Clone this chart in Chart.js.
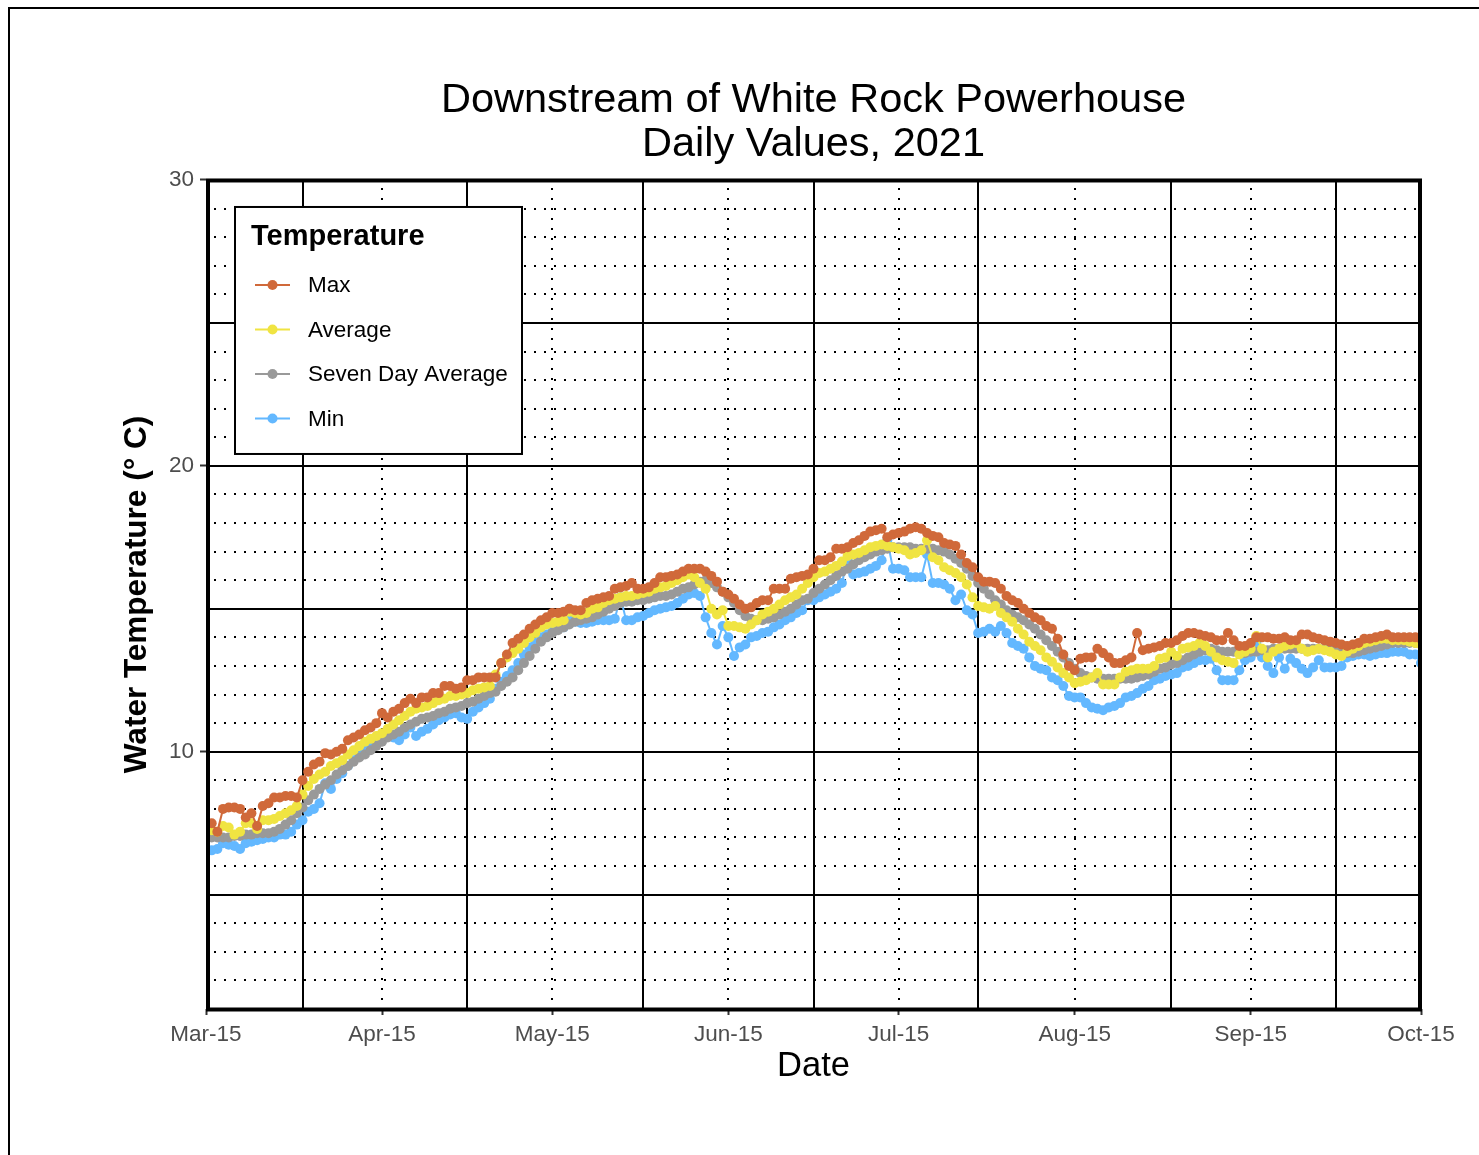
<!DOCTYPE html>
<html>
<head>
<meta charset="utf-8">
<script src="https://cdn.jsdelivr.net/npm/chart.js@4.4.1/dist/chart.umd.min.js"></script>
<style>
  html, body { margin: 0; padding: 0; background: #fff; }
  #wrap { position: relative; width: 1479px; height: 1155px; overflow: hidden; }
  #chart { position: absolute; left: 0; top: 0; }
  #frame { position: absolute; left: 8px; top: 7px; width: 1500px; height: 1200px;
           border-left: 2px solid #000; border-top: 2px solid #000; pointer-events: none; }
</style>
</head>
<body>
<div id="wrap">
  <canvas id="chart" width="1479" height="1155"></canvas>
  <div id="frame"></div>
</div>
<script>
// days are counted from Mar-15-2021; first reading is Mar-16
const firstDay = 1;

const maxTemp = [
  7.5, 7.2, 8.0, 8.05, 8.05, 8.0, 7.7, 7.85, 7.4, 8.1,
  8.2, 8.4, 8.4, 8.45, 8.45, 8.4, 9.0, 9.3, 9.55, 9.65,
  9.95, 9.9, 10.0, 10.1, 10.4, 10.5, 10.6, 10.75, 10.85, 11.0,
  11.35, 11.2, 11.4, 11.5, 11.7, 11.85, 11.7, 11.9, 11.9, 12.05,
  12.05, 12.3, 12.3, 12.2, 12.25, 12.5, 12.5, 12.6, 12.6, 12.6,
  12.6, 13.1, 13.4, 13.8, 13.95, 14.1, 14.3, 14.45, 14.6, 14.7,
  14.85, 14.85, 14.9, 15.0, 14.95, 14.95, 15.2, 15.3, 15.35, 15.4,
  15.45, 15.7, 15.75, 15.8, 15.9, 15.7, 15.7, 15.75, 15.9, 16.1,
  16.1, 16.15, 16.2, 16.3, 16.4, 16.4, 16.4, 16.3, 16.15, 15.95,
  15.6, 15.5, 15.35, 15.15, 15.0, 15.05, 15.2, 15.3, 15.3, 15.7,
  15.7, 15.7, 16.05, 16.1, 16.15, 16.2, 16.4, 16.7, 16.7, 16.8,
  17.1, 17.1, 17.15, 17.3, 17.4, 17.55, 17.7, 17.75, 17.8, 17.5,
  17.6, 17.65, 17.7, 17.8, 17.85, 17.8, 17.65, 17.55, 17.5, 17.3,
  17.25, 17.2, 16.9, 16.6, 16.45, 16.1, 15.95, 15.95, 15.9, 15.7,
  15.45, 15.3, 15.2, 15.0, 14.85, 14.7, 14.6, 14.4, 14.3, 13.95,
  13.4, 13.0, 12.85, 13.25, 13.3, 13.3, 13.6, 13.45, 13.3, 13.1,
  13.1, 13.2, 13.3, 14.15, 13.55, 13.6, 13.65, 13.7, 13.8, 13.8,
  13.9, 14.05, 14.15, 14.15, 14.1, 14.05, 14.0, 13.9, 13.9, 14.15,
  13.9, 13.7, 13.7, 13.8, 14.0, 14.0, 14.0, 13.95, 13.95, 14.0,
  13.9, 13.9, 14.1, 14.1, 14.0, 13.95, 13.9, 13.85, 13.8, 13.75,
  13.7, 13.75, 13.8, 13.95, 13.95, 14.0, 14.05, 14.1, 14.0, 14.0,
  14.0, 14.0, 14.0, 13.95
];

const avgTemp = [
  7.25, 7.2, 7.4, 7.35, 7.1, 7.2, 7.5, 7.5, 7.3, 7.6,
  7.6, 7.65, 7.75, 7.85, 7.95, 8.1, 8.5, 8.8, 9.05, 9.2,
  9.3, 9.5, 9.6, 9.7, 9.9, 10.05, 10.2, 10.35, 10.45, 10.55,
  10.65, 10.8, 10.95, 11.1, 11.25, 11.4, 11.5, 11.55, 11.6, 11.7,
  11.8, 11.85, 11.95, 11.95, 12.0, 12.05, 12.15, 12.2, 12.25, 12.3,
  12.7, 13.1, 13.3, 13.45, 13.6, 13.8, 14.0, 14.15, 14.35, 14.45,
  14.5, 14.55, 14.6, 14.9, 14.85, 14.8, 14.85, 15.0, 15.05, 15.2,
  15.3, 15.35, 15.4, 15.45, 15.45, 15.5, 15.55, 15.6, 15.7, 15.75,
  15.8, 15.9, 16.0, 16.1, 16.2, 16.1, 15.9, 15.7, 15.0, 14.8,
  14.95, 14.4, 14.4, 14.35, 14.3, 14.45, 14.6, 14.8, 14.9, 15.0,
  15.15, 15.3, 15.4, 15.5, 15.7, 15.9, 16.1, 16.25, 16.3, 16.4,
  16.5, 16.65, 16.85, 16.9, 16.95, 17.05, 17.15, 17.2, 17.25, 17.2,
  17.15, 17.1, 17.05, 16.9, 16.95, 17.05, 17.4, 16.8, 16.7, 16.45,
  16.35, 16.25, 16.1, 15.85, 15.4, 15.1, 15.05, 15.0, 15.1, 14.85,
  14.7, 14.55, 14.3, 14.1, 13.85, 13.7, 13.55, 13.3, 13.15, 12.95,
  12.75, 12.6, 12.4, 12.45, 12.5, 12.6, 12.75, 12.35, 12.35, 12.35,
  12.6, 12.8, 12.85, 12.9, 12.9, 12.9, 13.0, 13.25, 13.3, 13.5,
  13.35, 13.6, 13.65, 13.7, 13.8, 13.7, 13.5, 13.3, 13.2, 13.15,
  13.1, 13.4, 13.5, 13.6, 14.05, 13.6, 13.3, 13.5, 13.6, 13.7,
  13.75, 13.8, 13.6, 13.5, 13.55, 13.6, 13.55, 13.5, 13.4, 13.35,
  13.5, 13.6, 13.7, 13.8, 13.85, 13.9, 13.95, 13.95, 13.9, 13.9,
  13.9, 13.85, 13.8, 13.75
];

const sevenDayAvg = [
  7.0, 7.0, 7.0, 7.0, 7.05, 7.05, 7.1, 7.1, 7.15, 7.15,
  7.15, 7.2, 7.3, 7.45, 7.6, 7.85, 8.05, 8.3, 8.5, 8.7,
  8.85, 9.0, 9.2, 9.35, 9.5, 9.65, 9.8, 9.9, 10.05, 10.2,
  10.35, 10.5, 10.6, 10.7, 10.85, 10.95, 11.05, 11.15, 11.2, 11.25,
  11.35, 11.4, 11.5, 11.55, 11.6, 11.7, 11.75, 11.85, 11.95, 12.05,
  12.1, 12.3, 12.45, 12.6, 12.85, 13.1, 13.35, 13.6, 13.85, 14.0,
  14.15, 14.25, 14.35, 14.45, 14.55, 14.6, 14.65, 14.7, 14.8, 14.9,
  15.0, 15.1, 15.2, 15.25, 15.25, 15.3, 15.3, 15.35, 15.4, 15.45,
  15.45, 15.5, 15.6, 15.7, 15.75, 15.85, 15.95, 16.0, 15.9, 15.75,
  15.6, 15.4, 15.2, 14.95, 14.75, 14.65, 14.6, 14.6, 14.65, 14.7,
  14.8, 14.9, 15.0, 15.15, 15.3, 15.35, 15.55, 15.7, 15.85, 16.0,
  16.15, 16.3, 16.4, 16.55, 16.7, 16.8, 16.9, 17.0, 17.05, 17.1,
  17.15, 17.15, 17.15, 17.15, 17.1, 17.1, 17.1, 17.1, 17.05, 17.0,
  16.9, 16.75, 16.6, 16.4, 16.15, 15.9, 15.7, 15.5, 15.3, 15.15,
  14.95, 14.8, 14.7, 14.6, 14.45, 14.3, 14.1, 13.9, 13.7, 13.5,
  13.3, 13.1, 12.9, 12.75, 12.65, 12.6, 12.55, 12.55, 12.55, 12.55,
  12.55, 12.55, 12.55, 12.6, 12.65, 12.7, 12.8, 12.9, 12.95, 13.05,
  13.1, 13.2, 13.3, 13.4, 13.5, 13.55, 13.6, 13.55, 13.5, 13.5,
  13.5, 13.45, 13.45, 13.5, 13.5, 13.55, 13.55, 13.6, 13.6, 13.6,
  13.6, 13.6, 13.6, 13.6, 13.6, 13.6, 13.6, 13.55, 13.55, 13.5,
  13.45, 13.45, 13.5, 13.55, 13.6, 13.65, 13.7, 13.75, 13.8, 13.8,
  13.8, 13.8, 13.8, 13.8
];

const minTemp = [
  6.55, 6.6, 6.8, 6.75, 6.7, 6.6, 6.8, 6.85, 6.9, 6.95,
  7.0, 7.0, 7.1, 7.1, 7.2, 7.45, 7.6, 7.9, 8.0, 8.2,
  8.9, 8.7, 9.05, 9.25, 9.5, 9.7, 9.85, 10.05, 10.2, 10.3,
  10.45, 10.6, 10.5, 10.4, 10.6, 10.85, 10.55, 10.7, 10.8, 10.95,
  11.1, 11.2, 11.3, 11.35, 11.2, 11.15, 11.4, 11.55, 11.7, 11.85,
  12.2, 12.45, 12.65, 12.85, 13.1, 13.4, 13.65, 13.8, 14.0, 14.1,
  14.2, 14.3, 14.35, 14.6, 14.55, 14.5, 14.5, 14.55, 14.6, 14.6,
  14.6, 14.65, 15.4, 14.6, 14.6, 14.7, 14.75, 14.85, 14.95, 15.0,
  15.05, 15.1, 15.2, 15.35, 15.5, 15.55, 15.45, 14.7, 14.15, 13.75,
  14.4, 14.0, 13.35, 13.65, 13.75, 14.0, 14.05, 14.15, 14.2, 14.35,
  14.45, 14.6, 14.7, 14.85, 14.95, 15.3, 15.3, 15.4, 15.5, 15.6,
  15.7, 15.9, 16.7, 16.2, 16.25, 16.3, 16.4, 16.5, 16.7, 17.4,
  16.4, 16.4, 16.35, 16.1, 16.1, 16.1, 16.9, 15.9, 15.9, 15.85,
  15.7, 15.3, 15.5, 14.95, 14.8, 14.15, 14.2, 14.3, 14.2, 14.4,
  14.15, 13.8, 13.7, 13.6, 13.3, 13.0, 12.9, 12.85, 12.6, 12.5,
  12.3, 11.95, 11.9, 11.9, 11.7, 11.55, 11.5, 11.45, 11.55, 11.6,
  11.7, 11.9, 11.95, 12.05, 12.2, 12.3, 12.5, 12.55, 12.65, 12.7,
  12.75, 12.95, 13.0, 13.1, 13.2, 13.2, 13.25, 12.85, 12.5, 12.5,
  12.5, 12.85, 13.2, 13.3, 13.8, 13.3, 13.0, 12.75, 13.3, 12.9,
  13.25, 13.1, 12.9, 12.75, 12.95, 13.2, 12.95, 12.95, 12.95, 13.0,
  13.3, 13.35, 13.4, 13.4, 13.35, 13.4, 13.45, 13.45, 13.5, 13.5,
  13.5, 13.4, 13.4, 13.1
];

const seriesNames = ["Max", "Average", "Seven Day Average", "Min"];
const seriesColors = ["#D0693A", "#F0E442", "#999999", "#63B8FF"];

// x axis: labelled ticks (dotted grid) and solid grid lines, in days after Mar-15
const xTickDays = [0, 31, 61, 92, 122, 153, 184, 214];
const xTickLabels = ["Mar-15", "Apr-15", "May-15", "Jun-15", "Jul-15", "Aug-15", "Sep-15", "Oct-15"];
const xSolidDays = [17, 46, 77, 107, 136, 170, 199];

// y axis
const yTickValues = [10, 20, 30];
const ySolidValues = [5, 10, 15, 20, 25];
const yDottedValues = [2, 3, 4, 6, 7, 8, 9, 11, 12, 13, 14, 16, 17, 18, 19, 21, 22, 23, 24, 26, 27, 28, 29];

const FONT = "'Liberation Sans', Arial, sans-serif";

function toPoints(values) {
    return values.map((v, i) => ({ x: firstDay + i, y: v }));
}

const allSeries = [maxTemp, avgTemp, sevenDayAvg, minTemp];
const datasets = allSeries.map((vals, i) => ({
    label: seriesNames[i],
    data: toPoints(vals),
    borderColor: seriesColors[i],
    backgroundColor: seriesColors[i],
    borderWidth: 2,
    pointRadius: 5,
    pointBorderWidth: 0,
    pointHoverRadius: 5,
    tension: 0
}));

function strokeLine(ctx, x1, y1, x2, y2) {
    ctx.beginPath();
    ctx.moveTo(x1, y1);
    ctx.lineTo(x2, y2);
    ctx.stroke();
}

// panel grid: dotted at minor positions, solid at the others
const panelGrid = {
    id: "panelGrid",
    beforeDatasetsDraw(chart) {
        const { ctx, chartArea: a, scales: { x, y } } = chart;
        ctx.save();
        ctx.strokeStyle = "#000";
        ctx.lineWidth = 2;
        ctx.setLineDash([2, 8]);
        ctx.lineDashOffset = -8;
        yDottedValues.forEach(v => {
            const py = Math.round(y.getPixelForValue(v));
            strokeLine(ctx, a.left, py, a.right, py);
        });
        xTickDays.slice(1, -1).forEach(d => {
            const px = Math.round(x.getPixelForValue(d));
            strokeLine(ctx, px, a.top, px, a.bottom);
        });
        ctx.setLineDash([]);
        ySolidValues.forEach(v => {
            const py = Math.round(y.getPixelForValue(v));
            strokeLine(ctx, a.left, py, a.right, py);
        });
        xSolidDays.forEach(d => {
            const px = Math.round(x.getPixelForValue(d));
            strokeLine(ctx, px, a.top, px, a.bottom);
        });
        ctx.restore();
    }
};

// legend box inside the panel + thick panel border
const panelLegend = {
    id: "panelLegend",
    afterDatasetsDraw(chart) {
        const { ctx, chartArea: a } = chart;
        const bx = a.left + 29, by = a.top + 27, bw = 287, bh = 247;
        ctx.save();
        ctx.fillStyle = "#fff";
        ctx.fillRect(bx, by, bw, bh);
        ctx.strokeStyle = "#000";
        ctx.lineWidth = 2;
        ctx.strokeRect(bx, by, bw, bh);

        ctx.fillStyle = "#000";
        ctx.textBaseline = "middle";
        ctx.textAlign = "left";
        ctx.font = "bold 29px " + FONT;
        ctx.fillText("Temperature", bx + 16, by + 30);

        ctx.font = "22.5px " + FONT;
        chart.data.datasets.forEach((ds, i) => {
            const ry = by + 78 + i * 44.5;
            ctx.strokeStyle = ds.borderColor;
            ctx.lineWidth = 2;
            strokeLine(ctx, bx + 20, ry, bx + 55, ry);
            ctx.fillStyle = ds.backgroundColor;
            ctx.beginPath();
            ctx.arc(bx + 37.5, ry, 5, 0, Math.PI * 2);
            ctx.fill();
            ctx.fillStyle = "#000";
            ctx.fillText(ds.label, bx + 73, ry + 1);
        });

        ctx.strokeStyle = "#000";
        ctx.lineWidth = 4;
        ctx.strokeRect(a.left + 2, a.top + 0.5, (a.right - 1) - (a.left + 2), a.bottom - a.top);
        ctx.restore();
    }
};

new Chart(document.getElementById("chart"), {
    type: "line",
    data: { datasets: datasets },
    plugins: [panelGrid, panelLegend],
    options: {
        responsive: false,
        animation: false,
        events: [],
        layout: { padding: { left: 0, right: 58, top: 0, bottom: 0 } },
        plugins: {
            legend: { display: false },
            tooltip: { enabled: false },
            title: {
                display: true,
                fullSize: false,
                text: ["Downstream of White Rock Powerhouse", "Daily Values, 2021"],
                color: "#000",
                font: { family: FONT, size: 41.5, weight: "normal", lineHeight: 1.06 },
                padding: { top: 79, bottom: 13 }
            }
        },
        scales: {
            x: {
                type: "linear",
                min: xTickDays[0],
                max: xTickDays[xTickDays.length - 1],
                afterBuildTicks: s => { s.ticks = xTickDays.map(v => ({ value: v })); },
                afterFit: s => { s.height = 146; },
                ticks: {
                    autoSkip: false,
                    maxRotation: 0,
                    padding: 6,
                    color: "#4D4D4D",
                    font: { family: FONT, size: 22.5 },
                    callback: (v, i) => xTickLabels[i]
                },
                grid: { drawOnChartArea: false, drawTicks: true, tickLength: 6, tickColor: "#333", tickWidth: 2 },
                border: { display: false },
                title: {
                    display: true,
                    text: "Date",
                    color: "#000",
                    font: { family: FONT, size: 34.5 },
                    padding: { top: 0, bottom: 68 }
                }
            },
            y: {
                min: 1,
                max: 30,
                afterBuildTicks: s => { s.ticks = yTickValues.map(v => ({ value: v })); },
                afterFit: s => { s.width = 206; },
                ticks: {
                    padding: 6,
                    color: "#4D4D4D",
                    font: { family: FONT, size: 22.5 }
                },
                grid: { drawOnChartArea: false, drawTicks: true, tickLength: 6, tickColor: "#333", tickWidth: 2 },
                border: { display: false },
                title: {
                    display: true,
                    text: "Water Temperature (° C)",
                    color: "#000",
                    font: { family: FONT, size: 31.5, weight: "bold" },
                    padding: { top: 118, bottom: 0 }
                }
            }
        }
    }
});
</script>
</body>
</html>
